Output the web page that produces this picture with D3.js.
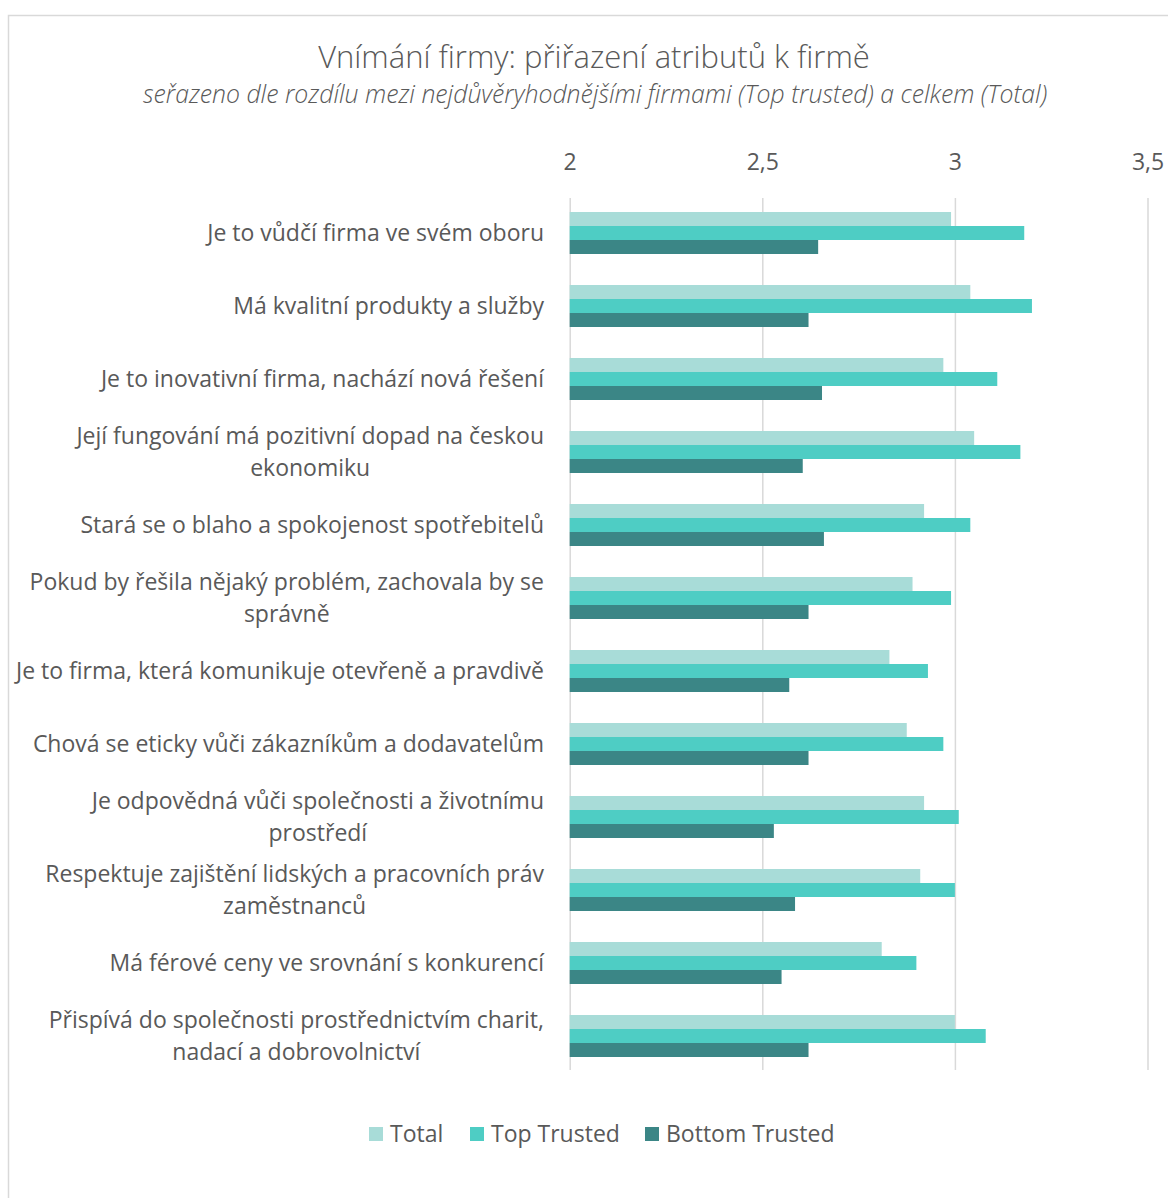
<!DOCTYPE html>
<html>
<head>
<meta charset="utf-8">
<script src="https://cdn.jsdelivr.net/npm/d3@7"></script>
<style>
  html, body { margin: 0; padding: 0; background: #fff; }
  svg { display: block; }
  text { font-family: "Open Sans", "Noto Sans", sans-serif; fill: #595959; }
</style>
</head>
<body>
<svg id="chart" width="1168" height="1198"></svg>
<script>
const categories = [
  "Je to vůdčí firma ve svém oboru",
  "Má kvalitní produkty a služby",
  "Je to inovativní firma, nachází nová řešení",
  "Její fungování má pozitivní dopad na českou\nekonomiku",
  "Stará se o blaho a spokojenost spotřebitelů",
  "Pokud by řešila nějaký problém, zachovala by se\nsprávně",
  "Je to firma, která komunikuje otevřeně a pravdivě",
  "Chová se eticky vůči zákazníkům a dodavatelům",
  "Je odpovědná vůči společnosti a životnímu\nprostředí",
  "Respektuje zajištění lidských a pracovních práv\nzaměstnanců",
  "Má férové ceny ve srovnání s konkurencí",
  "Přispívá do společnosti prostřednictvím charit,\nnadací a dobrovolnictví"
];
const seriesNames = ["Total", "Top Trusted", "Bottom Trusted"];
const totalValues  = [2.99, 3.04, 2.97, 3.05, 2.92, 2.89, 2.83, 2.875, 2.92, 2.91, 2.81, 3.00];
const topValues    = [3.18, 3.20, 3.11, 3.17, 3.04, 2.99, 2.93, 2.97, 3.01, 3.00, 2.90, 3.08];
const bottomValues = [2.645, 2.62, 2.655, 2.605, 2.66, 2.62, 2.57, 2.62, 2.53, 2.585, 2.55, 2.62];
const tickValues = [2, 2.5, 3, 3.5];
const tickLabels = ["2", "2,5", "3", "3,5"];
const colors = ["#A8DCD8", "#4ECDC4", "#3B8686"];

const title = "Vnímání firmy: přiřazení atributů k firmě";
const subtitle = "seřazeno dle rozdílu mezi nejdůvěryhodnějšími firmami (Top trusted) a celkem (Total)";

const svg = d3.select("#chart");

// outer frame
svg.append("rect")
  .attr("x", 8.5).attr("y", 15.5)
  .attr("width", 1300).attr("height", 1300)
  .attr("fill", "#fff").attr("stroke", "#D9D9D9").attr("stroke-width", 1.5);

const x = d3.scaleLinear().domain([2, 3.5]).range([569.7, 1147.5]);
const pad = 31 / 73;
const y = d3.scaleBand().domain(categories).range([196.5, 1072.5])
  .paddingInner(pad).paddingOuter(pad / 2);
const ySub = d3.scaleBand().domain(seriesNames).range([0, y.bandwidth()]).padding(0);

const seriesValues = [totalValues, topValues, bottomValues];
const rows = categories.map((c, i) => ({
  cat: c,
  vals: seriesNames.map((s, j) => ({ s, v: seriesValues[j][i], c: colors[j] }))
}));

// gridlines
svg.append("g")
  .attr("transform", "translate(0,198)")
  .call(d3.axisBottom(x).tickValues(tickValues).tickSize(872).tickFormat(""))
  .call(g => g.select(".domain").remove())
  .call(g => g.selectAll(".tick line").attr("stroke", "#D9D9D9").attr("stroke-width", 1.5));

// top tick labels
svg.append("g")
  .attr("transform", "translate(0,170)")
  .call(d3.axisTop(x).tickValues(tickValues).tickSize(0).tickPadding(0)
    .tickFormat((d, i) => tickLabels[i]))
  .call(g => g.select(".domain").remove())
  .call(g => g.selectAll(".tick text")
    .style("font-family", '"Open Sans", sans-serif')
    .style("font-size", "23px").attr("fill", "#595959").attr("dy", 0));

// bars
const groups = svg.append("g").selectAll("g").data(rows).join("g")
  .attr("transform", d => `translate(0,${y(d.cat)})`);
groups.selectAll("rect").data(d => d.vals).join("rect")
  .attr("x", x(2))
  .attr("y", d => ySub(d.s))
  .attr("width", d => x(d.v) - x(2))
  .attr("height", ySub.bandwidth())
  .attr("fill", d => d.c);

// category labels
const labelRight = 544;
const labels = svg.append("g").selectAll("text").data(categories).join("text")
  .style("font-size", "23px")
  .attr("fill", "#595959");
labels.each(function (d) {
  const lines = d.split("\n");
  const t = d3.select(this);
  const cy = y(d) + y.bandwidth() / 2;
  const lh = 32;
  const startY = cy - (lines.length - 1) * lh / 2 + 8;
  lines.forEach((ln, k) => {
    t.append("tspan").attr("y", startY + k * lh).text(ln);
  });
  let maxW = 0;
  t.selectAll("tspan").each(function () { maxW = Math.max(maxW, this.getComputedTextLength()); });
  if (lines.length > 1) {
    t.attr("text-anchor", "middle");
    t.selectAll("tspan").attr("x", labelRight - maxW / 2);
  } else {
    t.attr("text-anchor", "end");
    t.selectAll("tspan").attr("x", labelRight);
  }
});

// title & subtitle
svg.append("text").attr("x", 594).attr("y", 68).attr("text-anchor", "middle")
  .style("font-size", "31px").style("font-weight", 300).attr("fill", "#595959").text(title);
svg.append("text").attr("x", 595).attr("y", 103).attr("text-anchor", "middle")
  .style("font-size", "24.8px").style("font-style", "italic").style("font-weight", 300)
  .attr("fill", "#595959").text(subtitle);

// legend
const legendX = [369, 470, 645];
const leg = svg.append("g").selectAll("g").data(seriesNames).join("g")
  .attr("transform", (d, i) => `translate(${legendX[i]},1127)`);
leg.append("rect").attr("width", 14).attr("height", 14).attr("fill", (d, i) => colors[i]);
leg.append("text").attr("x", 21).attr("y", 15).style("font-size", "23px")
  .attr("fill", "#595959").text(d => d);
</script>
</body>
</html>
